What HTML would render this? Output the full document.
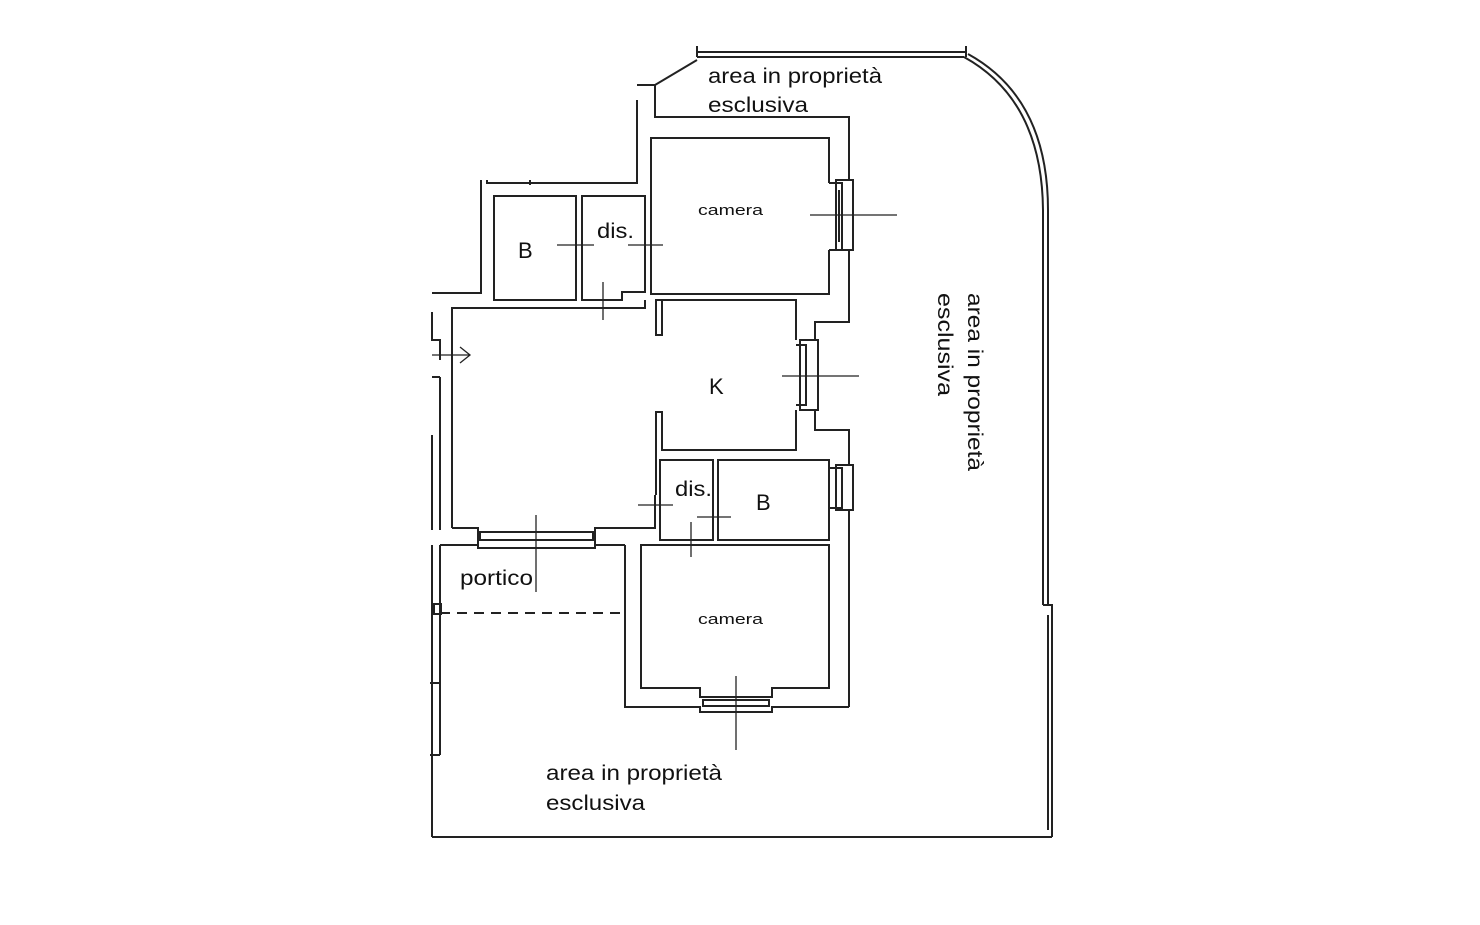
<!DOCTYPE html>
<html><head><meta charset="utf-8"><style>
html,body{margin:0;padding:0;background:#fff;}
svg{display:block}
text{font-family:"Liberation Sans",Arial,sans-serif;fill:#111}
</style></head><body>
<svg width="1480" height="925" viewBox="0 0 1480 925" xmlns="http://www.w3.org/2000/svg">
<g fill="none" stroke="#222" stroke-width="2">
<line x1="697" y1="52" x2="966" y2="52"/>
<line x1="697" y1="57" x2="964" y2="57"/>
<line x1="697" y1="46" x2="697" y2="57"/>
<line x1="966" y1="46" x2="966" y2="57"/>
<path d="M964 57 Q1042 100 1043 210 L1043 605"/>
<path d="M968 54 Q1048 98 1048 210 L1048 605"/>
<path d="M1043 605 L1052 605 L1052 837 M1048 615 L1048 830"/>
<line x1="432" y1="837" x2="1052" y2="837"/>
<line x1="432" y1="545" x2="432" y2="837"/>
<line x1="440" y1="545" x2="440" y2="755"/>
<rect x="434" y="604" width="7" height="10"/>
<line x1="430" y1="683" x2="440" y2="683"/>
<line x1="430" y1="755" x2="440" y2="755"/>
<path d="M432 435 L432 530 M440 377 L440 530 M432 377 L440 377"/>
<path d="M432 312 L432 340 L440 340 L440 360"/>
<path d="M697 60 L655 85 L637 85"/>
<path d="M655 85 L655 117 L849 117 L849 180"/>
<path d="M637 100 L637 183 L487 183 L487 180"/>
<path d="M481 180 L481 293 L432 293"/>
<line x1="530" y1="180" x2="530" y2="185"/>
<path d="M829 183 L829 138 L651 138 L651 294 L829 294 L829 250"/>
<rect x="836" y="180" width="17" height="70"/>
<path d="M829 183 L842 183 L842 250 L829 250"/>
<line x1="839" y1="190" x2="839" y2="242"/>
<path d="M849 250 L849 322 L815 322 L815 340"/>
<rect x="494" y="196" width="82" height="104"/>
<path d="M582 196 L645 196 L645 292 L622 292 L622 300 L582 300 Z"/>
<path d="M452 528 L452 308 L645 308 L645 300"/>
<rect x="656" y="300" width="6" height="35"/>
<path d="M662 300 L796 300 L796 340"/>
<rect x="800" y="340" width="18" height="70"/>
<path d="M796 345 L806 345 L806 405 L796 405"/>
<path d="M796 410 L796 450 L662 450 L662 412 L656 412 L656 495"/>
<path d="M815 410 L815 430 L849 430 L849 465"/>
<path d="M452 528 L478 528 L478 548 L595 548 L595 528 L655 528 L655 495"/>
<path d="M480 532 L593 532 L593 540 L480 540 Z"/>
<path d="M660 460 L713 460 L713 540 L660 540 Z"/>
<path d="M718 460 L829 460 L829 540 L718 540 Z"/>
<rect x="836" y="465" width="17" height="45"/>
<path d="M829 468 L842 468 L842 508 L829 508"/>
<path d="M849 510 L849 707"/>
<path d="M641 545 L829 545 L829 688 L772 688 L772 697 L700 697 L700 688 L641 688 Z"/>
<path d="M625 545 L625 707 L700 707 L700 712 L772 712 L772 707 L849 707"/>
<path d="M625 545 L595 545"/>
<path d="M703 700 L769 700 L769 706 L703 706 Z"/>
<path d="M440 545 L478 545"/>
<line x1="440" y1="613" x2="620" y2="613" stroke-dasharray="10,7"/>
</g>
<g stroke="#222" stroke-width="1.3">
<line x1="810" y1="215" x2="897" y2="215"/>
<line x1="557" y1="245" x2="594" y2="245"/><line x1="576" y1="236" x2="576" y2="254"/>
<line x1="628" y1="245" x2="663" y2="245"/><line x1="645" y1="236" x2="645" y2="254"/>
<line x1="603" y1="282" x2="603" y2="320"/><line x1="596" y1="300" x2="610" y2="300"/>
<line x1="782" y1="376" x2="859" y2="376"/>
<line x1="432" y1="355" x2="470" y2="355"/><path d="M460 347 L470 355 L460 363" fill="none"/>
<line x1="536" y1="515" x2="536" y2="592"/>
<line x1="638" y1="505" x2="673" y2="505"/>
<line x1="697" y1="517" x2="731" y2="517"/>
<line x1="691" y1="522" x2="691" y2="557"/>
<line x1="736" y1="676" x2="736" y2="750"/>
</g>
<text x="708" y="83" font-size="21" textLength="174" lengthAdjust="spacingAndGlyphs">area in proprietà</text>
<text x="708" y="112" font-size="21" textLength="100" lengthAdjust="spacingAndGlyphs">esclusiva</text>
<text x="698" y="215" font-size="15" textLength="65" lengthAdjust="spacingAndGlyphs">camera</text>
<text x="597" y="238" font-size="21" textLength="37" lengthAdjust="spacingAndGlyphs">dis.</text>
<text x="518" y="258" font-size="22">B</text>
<text x="709" y="394" font-size="22">K</text>
<text x="675" y="496" font-size="21" textLength="37" lengthAdjust="spacingAndGlyphs">dis.</text>
<text x="756" y="510" font-size="22">B</text>
<text x="460" y="585" font-size="21" textLength="73" lengthAdjust="spacingAndGlyphs">portico</text>
<text x="698" y="624" font-size="15" textLength="65" lengthAdjust="spacingAndGlyphs">camera</text>
<text x="546" y="780" font-size="21" textLength="176" lengthAdjust="spacingAndGlyphs">area in proprietà</text>
<text x="546" y="810" font-size="21" textLength="99" lengthAdjust="spacingAndGlyphs">esclusiva</text>
<text transform="translate(968,293) rotate(90)" font-size="21" textLength="178" lengthAdjust="spacingAndGlyphs">area in proprietà</text>
<text transform="translate(938,293) rotate(90)" font-size="21" textLength="103" lengthAdjust="spacingAndGlyphs">esclusiva</text>
</svg>
</body></html>
